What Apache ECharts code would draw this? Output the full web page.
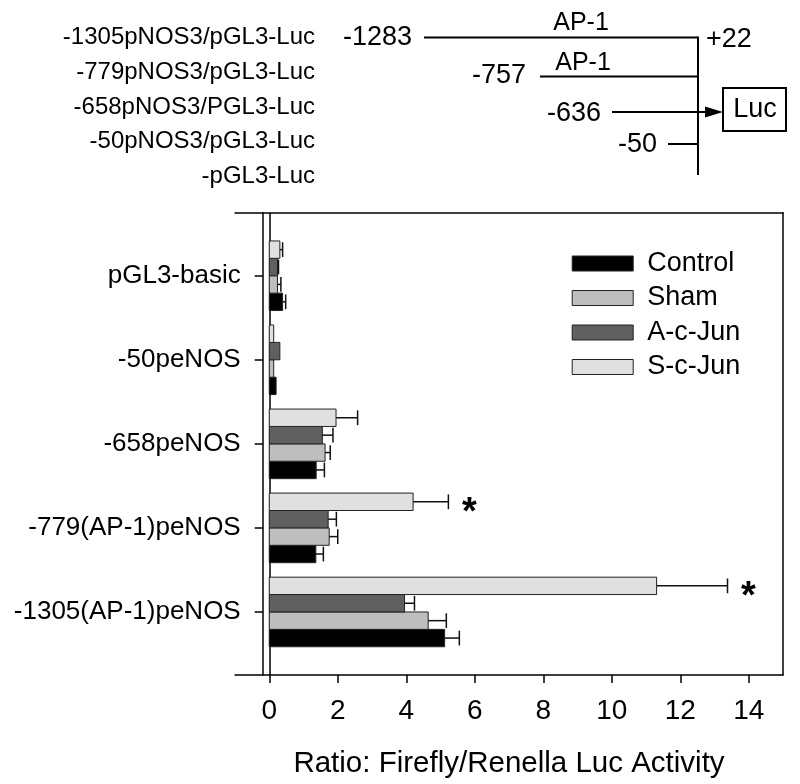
<!DOCTYPE html>
<html>
<head>
<meta charset="utf-8">
<script src="https://cdn.jsdelivr.net/npm/echarts@6/dist/echarts.min.js"></script>
<style>
html,body{margin:0;padding:0;background:#fff;}
#chart{width:800px;height:784px;}
</style>
</head>
<body>
<div id="chart"></div>
<script>
// ---- data ----
const categories = ['-1305(AP-1)peNOS', '-779(AP-1)peNOS', '-658peNOS', '-50peNOS', 'pGL3-basic']; // bottom -> top
const seriesNames = ['Control', 'Sham', 'A-c-Jun', 'S-c-Jun'];
const seriesColors = ['#000000', '#bebebe', '#606060', '#e0e0e0'];
const controlVals = [5.12, 1.36, 1.37, 0.20, 0.39];
const controlErr  = [0.43, 0.22, 0.24, 0.00, 0.09];
const shamVals    = [4.64, 1.75, 1.63, 0.13, 0.24];
const shamErr     = [0.53, 0.25, 0.15, 0.00, 0.10];
const aJunVals    = [3.95, 1.72, 1.55, 0.31, 0.24];
const aJunErr     = [0.29, 0.24, 0.31, 0.00, 0.03];
const sJunVals    = [11.31, 4.20, 1.95, 0.13, 0.31];
const sJunErr     = [2.07, 1.03, 0.63, 0.00, 0.08];
const sJunSignificant = [true, true, false, false, false];
const xTicks = [0, 2, 4, 6, 8, 10, 12, 14];
const xTitle = 'Ratio: Firefly/Renella Luc Activity';

// schematic texts
const constructLabels = ['-1305pNOS3/pGL3-Luc', '-779pNOS3/pGL3-Luc', '-658pNOS3/PGL3-Luc', '-50pNOS3/pGL3-Luc', '-pGL3-Luc'];
const siteLabels = ['-1283', '-757', '-636', '-50', '+22'];

const allVals = [controlVals, shamVals, aJunVals, sJunVals];
const allErr = [controlErr, shamErr, aJunErr, sJunErr];
const allSig = [null, null, null, sJunSignificant];

const FONT = 'Liberation Sans, Arial, Helvetica, sans-serif';
const BAR_UNIT = 0.207;              // bar thickness in category units
const barOffsets = [-1.5, -0.5, 0.5, 1.5]; // Control lowest, S-c-Jun highest

function makeRender(si) {
  return function (params, api) {
    const v = api.value(0), c = api.value(1), e = api.value(2), sig = api.value(3);
    const barH = api.size([0, BAR_UNIT])[1];
    const base = api.coord([0, c]);
    const yc = base[1] - barOffsets[si] * barH;
    const x0 = base[0];
    const x1 = api.coord([v, c])[0];
    const xe = api.coord([v + e, c])[0];
    const children = [{
      type: 'rect',
      shape: { x: x0, y: yc - barH / 2, width: x1 - x0, height: barH },
      style: { fill: seriesColors[si], stroke: '#222', lineWidth: 1 }
    }];
    if (e > 0) {
      const cap = barH * 0.85;
      children.push({ type: 'line', shape: { x1: x1, y1: yc, x2: xe, y2: yc }, style: { stroke: '#111', lineWidth: 1.5 } });
      children.push({ type: 'line', shape: { x1: xe, y1: yc - cap / 2, x2: xe, y2: yc + cap / 2 }, style: { stroke: '#111', lineWidth: 1.5 } });
    }
    if (sig) {
      children.push({
        type: 'text',
        style: { text: '*', x: xe + 21, y: yc + 12, fill: '#000', font: 'bold 38px ' + FONT, textAlign: 'center', textVerticalAlign: 'middle' }
      });
    }
    return { type: 'group', children: children };
  };
}

const series = seriesNames.map(function (name, si) {
  const s = {
    name: name,
    type: 'custom',
    renderItem: makeRender(si),
    encode: { x: 0, y: 1 },
    itemStyle: { color: seriesColors[si] },
    data: categories.map(function (cat, ci) {
      return [allVals[si][ci], ci, allErr[si][ci], allSig[si] && allSig[si][ci] ? 1 : 0];
    }),
    z: 5
  };
  if (si === 0) {
    s.markLine = {
      silent: true, symbol: 'none', label: { show: false },
      lineStyle: { color: '#000', width: 1.5, type: 'solid' },
      data: [{ xAxis: 0 }]
    };
  }
  return s;
});

// schematic
const schemFont = '27px ' + FONT;
const graphics = [];
constructLabels.forEach(function (t, i) {
  graphics.push({ type: 'text', x: 315, y: 37.5 + i * 34.7,
    style: { text: t, font: '24px ' + FONT, fill: '#000', textAlign: 'right', textVerticalAlign: 'middle' } });
});
const lw = 2;
graphics.push(
  { type: 'text', x: 412, y: 38, style: { text: siteLabels[0], font: schemFont, fill: '#000', textAlign: 'right', textVerticalAlign: 'middle' } },
  { type: 'line', shape: { x1: 424, y1: 37.5, x2: 698, y2: 37.5 }, style: { stroke: '#000', lineWidth: lw } },
  { type: 'text', x: 581, y: 23, style: { text: 'AP-1', font: '25px ' + FONT, fill: '#000', textAlign: 'center', textVerticalAlign: 'middle' } },
  { type: 'text', x: 706, y: 40, style: { text: siteLabels[4], font: schemFont, fill: '#000', textAlign: 'left', textVerticalAlign: 'middle' } },
  { type: 'text', x: 526, y: 76, style: { text: siteLabels[1], font: schemFont, fill: '#000', textAlign: 'right', textVerticalAlign: 'middle' } },
  { type: 'line', shape: { x1: 540, y1: 76.5, x2: 698, y2: 76.5 }, style: { stroke: '#000', lineWidth: lw } },
  { type: 'text', x: 583, y: 63, style: { text: 'AP-1', font: '25px ' + FONT, fill: '#000', textAlign: 'center', textVerticalAlign: 'middle' } },
  { type: 'text', x: 601, y: 114, style: { text: siteLabels[2], font: schemFont, fill: '#000', textAlign: 'right', textVerticalAlign: 'middle' } },
  { type: 'line', shape: { x1: 612, y1: 112, x2: 708, y2: 112 }, style: { stroke: '#000', lineWidth: lw } },
  { type: 'polygon', shape: { points: [[705, 106.5], [723, 112], [705, 117.5]] }, style: { fill: '#000' } },
  { type: 'rect', shape: { x: 723, y: 88, width: 63, height: 43 }, style: { fill: '#fff', stroke: '#000', lineWidth: lw } },
  { type: 'text', x: 755, y: 110, style: { text: 'Luc', font: schemFont, fill: '#000', textAlign: 'center', textVerticalAlign: 'middle' } },
  { type: 'text', x: 657, y: 145, style: { text: siteLabels[3], font: schemFont, fill: '#000', textAlign: 'right', textVerticalAlign: 'middle' } },
  { type: 'line', shape: { x1: 668, y1: 144, x2: 698, y2: 144 }, style: { stroke: '#000', lineWidth: lw } },
  { type: 'line', shape: { x1: 698, y1: 36.5, x2: 698, y2: 175 }, style: { stroke: '#000', lineWidth: lw } }
);

const axisLineStyle = { color: '#000', width: 1.5 };
const option = {
  backgroundColor: '#fff',
  animation: false,
  textStyle: { fontFamily: FONT },
  grid: { left: 235, right: 17, top: 212.7, bottom: 108.7, containLabel: false },
  legend: {
    orient: 'vertical', left: 571.7, top: 250, padding: 0,
    itemWidth: 61, itemHeight: 15, itemGap: 7.5,
    textStyle: { fontSize: 27, fontFamily: FONT, color: '#000', lineHeight: 26, padding: [0, 0, 0, 9] },
    data: seriesNames.map(function (n, i) {
      return { name: n, icon: 'rect', itemStyle: { color: seriesColors[i], borderColor: '#222', borderWidth: 1 } };
    })
  },
  xAxis: [{
    type: 'value', min: -1, max: 15, position: 'bottom',
    axisLine: { show: true, onZero: false, lineStyle: axisLineStyle },
    axisTick: { show: true, inside: false, length: 8, lineStyle: axisLineStyle, customValues: xTicks },
    axisLabel: { show: true, customValues: xTicks, fontSize: 28, color: '#000', fontFamily: FONT, margin: 22 },
    splitLine: { show: false },
    name: xTitle, nameLocation: 'middle', nameGap: 74,
    nameTextStyle: { fontSize: 29.5, color: '#000', fontFamily: FONT }
  }, {
    type: 'value', min: -1, max: 15, position: 'top',
    axisLine: { show: true, onZero: false, lineStyle: axisLineStyle },
    axisTick: { show: false }, axisLabel: { show: false }, splitLine: { show: false }
  }],
  yAxis: [{
    type: 'value', min: -0.75, max: 4.75, position: 'left', offset: -27.7,
    axisLine: { show: true, onZero: false, lineStyle: axisLineStyle },
    axisTick: { show: true, inside: false, length: 8, lineStyle: axisLineStyle, customValues: [0, 1, 2, 3, 4] },
    axisLabel: { show: true, customValues: [0, 1, 2, 3, 4], fontSize: 26, color: '#000', fontFamily: FONT, margin: 22,
      formatter: function (v) { return categories[Math.round(v)]; } },
    splitLine: { show: false }
  }, {
    type: 'value', min: -0.75, max: 4.75, position: 'right',
    axisLine: { show: true, onZero: false, lineStyle: axisLineStyle },
    axisTick: { show: false }, axisLabel: { show: false }, splitLine: { show: false }
  }],
  graphic: graphics,
  series: series
};

const chart = echarts.init(document.getElementById('chart'), null, { renderer: 'canvas' });
chart.setOption(option);
</script>
</body>
</html>
